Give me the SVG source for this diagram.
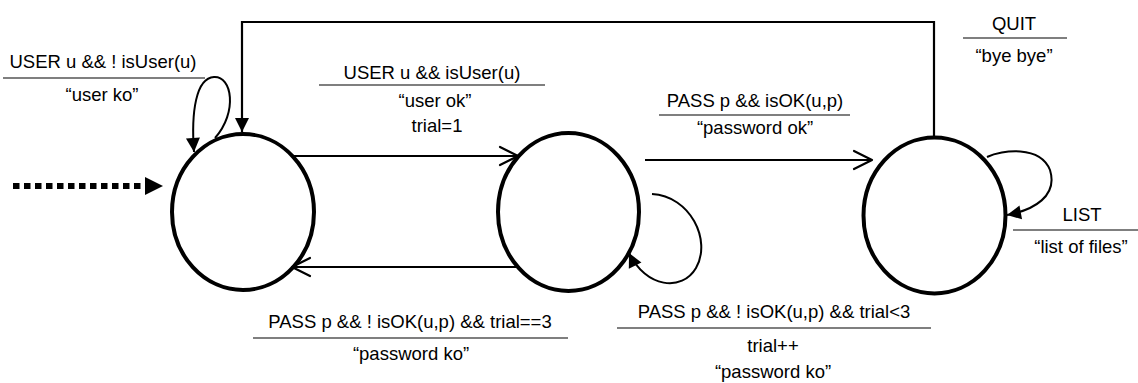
<svg xmlns="http://www.w3.org/2000/svg" width="1138" height="383" viewBox="0 0 1138 383">
<style>
.state{fill:none;stroke:#000;stroke-width:4}
.edge{fill:none;stroke:#000;stroke-width:2.2}
.loop{fill:none;stroke:#000;stroke-width:2}
.sep{stroke:#7f7f7f;stroke-width:1.8}
text{font-family:"Liberation Sans",Arial,sans-serif;font-size:18.5px;fill:#000;text-anchor:middle}
</style>
<defs>
<marker id="fill" markerUnits="userSpaceOnUse" markerWidth="15" markerHeight="15" refX="14" refY="7" orient="auto" overflow="visible">
<path d="M0,0 L14,7 L0,14 z" fill="#000"/>
</marker>
<marker id="open" markerUnits="userSpaceOnUse" markerWidth="20" markerHeight="20" refX="18" refY="9" orient="auto" overflow="visible">
<path d="M0,0 L18,9 L0,18" fill="none" stroke="#000" stroke-width="2.2" stroke-linecap="round" stroke-linejoin="round"/>
</marker>
</defs>
<g id="connectors">
<line x1="13" y1="186" x2="145" y2="186" stroke="#000" stroke-width="6" stroke-dasharray="6.5 4.5"/>
<path d="M145,177 L163,186 L145,195 z" fill="#000"/>
<path class="loop" d="M215,138 C238,112 232,76 214,77 C196,78 191,112 194,152" marker-end="url(#fill)"/>
<path class="edge" d="M934,137 L934,22 L242,22 L242,132" marker-end="url(#fill)"/>
<line class="edge" x1="293" y1="156" x2="518" y2="156" marker-end="url(#open)"/>
<line class="edge" x1="520" y1="267" x2="292" y2="267" marker-end="url(#open)"/>
<line class="edge" x1="645" y1="160" x2="872" y2="160" marker-end="url(#open)"/>
<path class="loop" d="M652,194 C690,196 712,240 696,268 C682,292 646,288 629,253" marker-end="url(#fill)"/>
<path class="loop" d="M987,157 C1002,150 1040,145 1050,170 C1058,196 1034,210 1007,215" marker-end="url(#fill)"/>
</g>
<g id="state-start">
<ellipse class="state" cx="243" cy="212" rx="71" ry="78"/>
</g>
<g id="state-user">
<ellipse class="state" cx="568.5" cy="212" rx="70.5" ry="79"/>
</g>
<g id="state-logged">
<ellipse class="state" cx="934.5" cy="215.5" rx="71" ry="78"/>
</g>
<g id="label-user-ko">
<text x="103" y="68">USER u &amp;&amp; ! isUser(u)</text>
<line class="sep" x1="3" y1="78" x2="205" y2="78"/>
<text x="102" y="101">“user ko”</text>
</g>
<g id="label-user-ok">
<text x="432" y="79">USER u &amp;&amp; isUser(u)</text>
<line class="sep" x1="319" y1="85" x2="545" y2="85"/>
<text x="435" y="107">“user ok”</text>
<text x="437" y="132">trial=1</text>
</g>
<g id="label-pass-ok">
<text x="755" y="107">PASS p &amp;&amp; isOK(u,p)</text>
<line class="sep" x1="659" y1="115" x2="850" y2="115"/>
<text x="755" y="134">“password ok”</text>
</g>
<g id="label-quit">
<text x="1014" y="30">QUIT</text>
<line class="sep" x1="963" y1="38" x2="1067" y2="38"/>
<text x="1014" y="62">“bye bye”</text>
</g>
<g id="label-list">
<text x="1082" y="221">LIST</text>
<line class="sep" x1="1013" y1="230" x2="1138" y2="230"/>
<text x="1081" y="253">“list of files”</text>
</g>
<g id="label-pass-ko-3">
<text x="410" y="328">PASS p &amp;&amp; ! isOK(u,p) &amp;&amp; trial==3</text>
<line class="sep" x1="253" y1="338" x2="568" y2="338"/>
<text x="411" y="360">“password ko”</text>
</g>
<g id="label-pass-ko-lt3">
<text x="774" y="318">PASS p &amp;&amp; ! isOK(u,p) &amp;&amp; trial&lt;3</text>
<line class="sep" x1="617" y1="328" x2="931" y2="328"/>
<text x="773" y="352">trial++</text>
<text x="773" y="378">“password ko”</text>
</g>
</svg>
